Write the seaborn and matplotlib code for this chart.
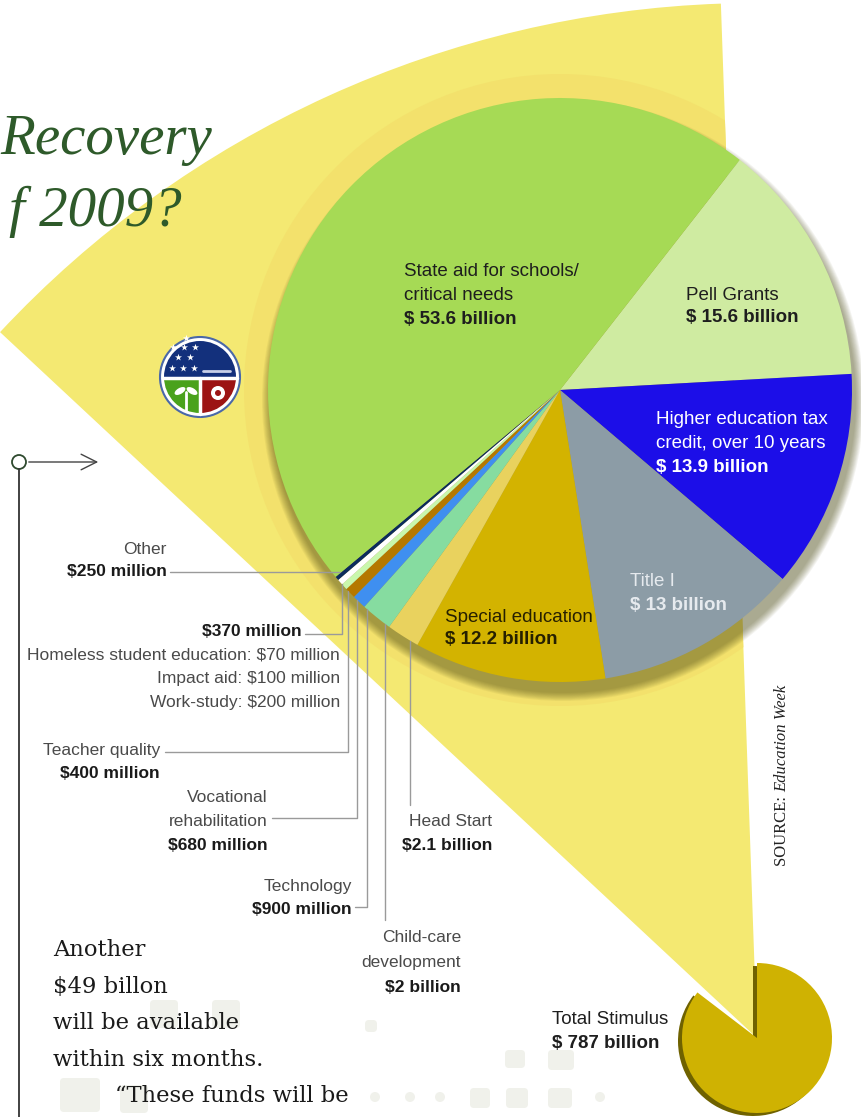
import matplotlib.pyplot as plt
import matplotlib.patches as mpatches
import numpy as np
import seaborn as sns

sns.set_theme(style="white")
SANS = ['Liberation Sans', 'DejaVu Sans']
SERIF = ['Liberation Serif', 'DejaVu Serif']
BODY = ['DejaVu Serif']
plt.rcParams['font.family'] = SANS

W, H = 861, 1117

# education money from the stimulus, in billions, clockwise from Pell Grants
slice_names = ['Pell Grants', 'Higher education tax credit', 'Title I', 'Special education',
               'Head Start', 'Child-care development', 'Technology',
               'Vocational rehabilitation', 'Teacher quality', 'Homeless / impact aid / work-study',
               'Other', 'State aid for schools/critical needs']
slice_values = [15.6, 13.9, 13.0, 12.2, 2.1, 2.0, 0.9, 0.68, 0.40, 0.37, 0.25, 53.6]
slice_colors = ['#cfeba1', '#1c0ee8', '#8c9ca6', '#d3b300', '#e9d25e', '#86dca0',
                '#3f8ff0', '#b57800', '#c9f7ac', '#ffffff', '#0b2b5c', '#a6da55']

# the $370 million slice is made of these (millions)
sub_names = ['Homeless student education', 'Impact aid', 'Work-study']
sub_values = [70, 100, 200]

total_stimulus = 787
education_total = sum(slice_values)


def money(v):
    if v < 1:
        return f"${v * 1000:g} million"
    return f"${v:g} billion"


fig = plt.figure(figsize=(W / 100, H / 100), dpi=100)
ax = fig.add_axes([0, 0, 1, 1])

cx, cy, R = 560, 390, 292          # big pie
sx, sy, sr = 757, 1038, 75         # small pie

# yellow fan from the small pie up to the big one
fan = mpatches.Wedge((sx, sy), 1035, -137, -92, fc='#f4e972', ec='none', zorder=1)
ax.add_patch(fan)
ring = mpatches.Circle((cx, cy), R + 24, fc='#f3e16c', ec='none', zorder=1.5)
ax.add_patch(ring)
ring.set_clip_path(fan)

# soft shadow under the big pie
for k in range(10, 0, -1):
    ax.add_patch(mpatches.Circle((cx + 3, cy + 10), R + k * 0.9, fc='#4e4a14',
                                 ec='none', alpha=0.06, zorder=2))

ax.pie(slice_values, colors=slice_colors, startangle=-52, counterclock=True,
       center=(cx, cy), radius=R, frame=True,
       wedgeprops=dict(linewidth=0, zorder=3))

# small pie: total stimulus with the education share cut out
ax.pie([total_stimulus - education_total, education_total], colors=['#6f6200', 'none'],
       startangle=-90, counterclock=True, center=(sx - 4, sy + 3), radius=sr, frame=True,
       wedgeprops=dict(linewidth=0, zorder=2.5))
ax.pie([total_stimulus - education_total, education_total], colors=['#cfb202', 'none'],
       startangle=-90, counterclock=True, center=(sx, sy), radius=sr, frame=True,
       wedgeprops=dict(linewidth=0, zorder=3))

# faint decorative squares near the bottom
for (x0, y0, w, h) in [(150, 1000, 28, 28), (212, 1000, 28, 28), (365, 1020, 12, 12),
                       (505, 1050, 20, 18), (548, 1050, 26, 20), (470, 1088, 20, 20),
                       (506, 1088, 22, 20), (548, 1088, 24, 20), (60, 1078, 40, 34),
                       (120, 1085, 28, 28)]:
    ax.add_patch(mpatches.FancyBboxPatch((x0, y0), w, h, boxstyle='round,pad=0,rounding_size=4',
                                         fc='#f0f1eb', ec='none', zorder=0.5))
for x0 in [375, 410, 440, 600]:
    ax.add_patch(mpatches.Circle((x0, 1097), 5, fc='#f0f1eb', ec='none', zorder=0.5))

# recovery.gov seal
lx, ly = 200, 377
ax.add_patch(mpatches.Circle((lx, ly), 40, fc='white', ec='#4a68a8', lw=1.5, zorder=4))
ax.add_patch(mpatches.Wedge((lx, ly), 36, 180, 360, fc='#13307c', ec='none', zorder=4.1))
ax.add_patch(mpatches.Wedge((lx, ly), 36, 90, 180, fc='#4aa21c', ec='none', zorder=4.1))
ax.add_patch(mpatches.Wedge((lx, ly), 36, 0, 90, fc='#9c1414', ec='none', zorder=4.1))
ax.plot([lx - 37, lx + 37], [ly + 1, ly + 1], color='white', lw=2.5, zorder=4.2)
ax.plot([lx, lx], [ly + 1, ly + 37], color='white', lw=2.5, zorder=4.2)
ax.plot([lx + 3, lx + 30], [ly - 6, ly - 6], color='#c8d0e8', lw=2, zorder=4.2)
ax.scatter([173, 184, 195, 178, 190, 172, 183, 194, 186], [347, 347, 347, 357, 357, 368, 368, 368, 338],
           marker='*', s=28, color='white', zorder=4.3, linewidths=0)
ax.add_patch(mpatches.Ellipse((180, 391), 12, 6, angle=-30, fc='white', ec='none', zorder=4.3))
ax.add_patch(mpatches.Ellipse((192, 391), 12, 6, angle=30, fc='white', ec='none', zorder=4.3))
ax.plot([186, 186], [392, 410], color='white', lw=2, zorder=4.3)
ax.add_patch(mpatches.Circle((218, 393), 7, fc='white', ec='none', zorder=4.3))
ax.add_patch(mpatches.Circle((218, 393), 3, fc='#9c1414', ec='none', zorder=4.4))

# title fragment
ax.text(0, 140, "Recovery", family=SERIF, style='italic', fontsize=41, color='#2e5a2a',
        ha='left', va='center', zorder=6)
ax.text(182, 212, "f 2009?", family=SERIF, style='italic', fontsize=41, color='#2e5a2a',
        ha='right', va='center', zorder=6)

# arrow and side rule
ax.add_patch(mpatches.Circle((19, 462), 7, fc='white', ec='#2f4a2f', lw=1.3, zorder=6))
ax.annotate('', xy=(101, 462), xytext=(26, 462),
            arrowprops=dict(arrowstyle='->', color='#444444', lw=1, mutation_scale=28), zorder=6)
ax.plot([19, 19], [469, H], color='#333333', lw=1.3, zorder=6)

# labels inside the big pie
dark = '#1e1e1e'
def block(x, ys, lines, color, ha='left', size=13.5, bold_last=True):
    for i, (y, s) in enumerate(zip(ys, lines)):
        bold = bold_last and i == len(lines) - 1
        ax.text(x, y, s, ha=ha, va='center', fontsize=size,
                color=('#1a1a1a' if color == '#4a4a4a' and bold else color),
                fontweight='bold' if bold else 'normal', zorder=7)

block(404, [272, 296, 320], ['State aid for schools/', 'critical needs',
                             '$ ' + money(slice_values[11])[1:]], dark)
block(686, [295, 318], ['Pell Grants', '$ ' + money(slice_values[0])[1:]], dark)
block(656, [420, 443, 467], ['Higher education tax', 'credit, over 10 years',
                             '$ ' + money(slice_values[1])[1:]], 'white')
block(630, [581, 605], ['Title I', '$ ' + money(slice_values[2])[1:]], '#e6eaee')
block(445, [617, 640], ['Special education', '$ ' + money(slice_values[3])[1:]], '#262000')

# labels for the thin slices, with leader lines
grey = '#4a4a4a'
sz = 12.5
block(167, [549, 572], ['Other', money(slice_values[10])], grey, ha='right', size=sz)
block(302, [632], [money(slice_values[9])], grey, ha='right', size=sz)
for y, n, v in zip([655, 679, 703], sub_names, sub_values):
    ax.text(340, y, f"{n}: ${v} million", ha='right', va='center', fontsize=sz, color=grey, zorder=7)
block(160, [750, 773], ['Teacher quality', money(slice_values[8])], grey, ha='right', size=sz)
block(268, [797, 821, 846], ['Vocational', 'rehabilitation', money(slice_values[7])], grey,
      ha='right', size=sz)
block(352, [886, 910], ['Technology', money(slice_values[6])], grey, ha='right', size=sz)
block(492, [822, 846], ['Head Start', money(slice_values[4])], grey, ha='right', size=sz)
block(461, [938, 963, 987], ['Child-care', 'development', money(slice_values[5])], grey,
      ha='right', size=sz)


def edge_y(x):
    return cy + np.sqrt(R ** 2 - (x - cx) ** 2)

lc = dict(color='#9a9a9a', lw=1, zorder=4)
ax.plot([170, 340], [572, 572], **lc)
ax.plot([305, 342, 342], [634, 634, edge_y(342)], **lc)
ax.plot([165, 348, 348], [752, 752, edge_y(348)], **lc)
ax.plot([272, 357, 357], [818, 818, edge_y(357)], **lc)
ax.plot([355, 367, 367], [907, 907, edge_y(367)], **lc)
ax.plot([385, 385], [920, edge_y(385)], **lc)
ax.plot([410, 410], [805, edge_y(410)], **lc)

# total stimulus
block(552, [1020, 1043], ['Total Stimulus', '$ ' + money(total_stimulus)[1:]], dark, size=13.5)

# body text
body = ['Another', '$49 billon', 'will be available', 'within six months.']
for i, s in enumerate(body):
    ax.text(53, 950 + i * 36.7, s, family=BODY, fontsize=16.3, color='#1a1a1a',
            ha='left', va='center', zorder=7)
ax.text(115, 1096, '\u201cThese funds will be', family=BODY, fontsize=16.3, color='#1a1a1a',
        ha='left', va='center', zorder=7)

ax.set_xlim(0, W)
ax.set_ylim(H, 0)
ax.set_aspect('equal')
ax.axis('off')

# rotated source note
t1 = ax.text(782, 866, 'SOURCE: ', family=SERIF, fontsize=12, color='#222222', rotation=90,
             rotation_mode='anchor', ha='left', va='center', zorder=7)
fig.canvas.draw()
bb = t1.get_window_extent()
ax.text(782, 866 - bb.height, 'Education Week', family=SERIF, style='italic', fontsize=12,
        color='#222222', rotation=90, rotation_mode='anchor', ha='left', va='center', zorder=7)

fig.savefig('out.png', dpi=100)
